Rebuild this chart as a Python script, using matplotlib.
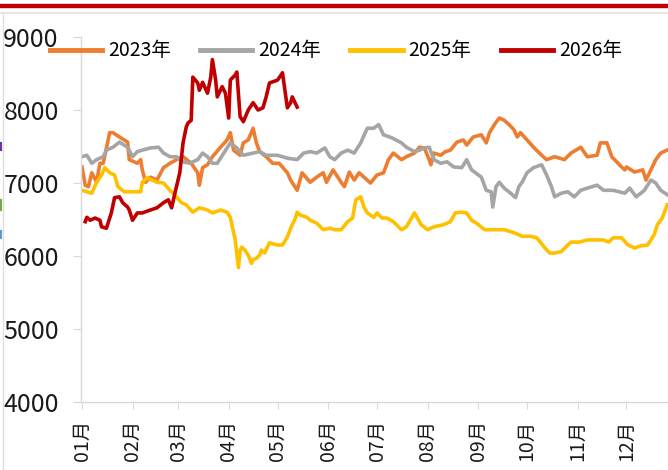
import matplotlib
matplotlib.use("Agg")
import matplotlib.pyplot as plt
from matplotlib.lines import Line2D

plt.rcParams["font.family"] = ["Noto Sans CJK SC", "DejaVu Sans"]

# x轴: 一年中的第几天 (1月1日 = 0)
month_starts = [0, 31, 59, 90, 120, 151, 181, 212, 243, 273, 304, 334]
month_labels = ["01月", "02月", "03月", "04月", "05月", "06月",
                "07月", "08月", "09月", "10月", "11月", "12月"]

# 2023年
d2023 = [0, 2, 4, 6, 9, 11, 13, 15, 17, 19, 23, 28, 29, 34, 36, 37, 39, 42, 46, 50,
         54, 58, 62, 67, 71, 72, 74, 77, 80, 85, 89, 91, 93, 97, 99, 102, 105, 107, 109, 113,
         117, 121, 126, 128, 132, 135, 140, 144, 148, 150, 154, 159, 161, 164, 167, 170, 173, 177, 181, 185,
         188, 191, 196, 199, 204, 207, 210, 213, 214, 216, 220, 223, 226, 230, 234, 236, 240, 245, 248, 250,
         253, 256, 259, 262, 265, 267, 269, 273, 277, 282, 285, 290, 296, 300, 306, 310, 316, 318, 322, 325,
         331, 333, 334, 339, 344, 346, 349, 352, 355, 359]
v2023 = [7220, 6970, 6950, 7140, 7010, 7270, 7270, 7480, 7690, 7690, 7630, 7560, 7320, 7270, 7320, 7180, 7010, 7080, 7040, 7210,
         7270, 7320, 7360, 7270, 7140, 6970, 7210, 7250, 7360, 7490, 7590, 7690, 7450, 7380, 7550, 7590, 7750, 7550, 7430, 7360,
         7270, 7270, 7140, 7040, 6900, 7140, 7010, 7080, 7140, 7010, 7180, 7010, 6950, 7150, 7040, 7140, 7080, 7000, 7110, 7140,
         7320, 7410, 7320, 7360, 7410, 7490, 7480, 7320, 7250, 7410, 7380, 7430, 7450, 7560, 7590, 7520, 7630, 7660, 7550, 7690,
         7800, 7890, 7860, 7800, 7730, 7630, 7690, 7590, 7490, 7380, 7320, 7360, 7320, 7410, 7490, 7360, 7380, 7550, 7550, 7360,
         7220, 7180, 7220, 7150, 7180, 7040, 7180, 7320, 7410, 7450]

# 2024年
d2024 = [0, 3, 6, 9, 13, 15, 19, 23, 28, 31, 34, 37, 42, 47, 50, 54, 58, 62, 66, 71,
         74, 77, 80, 83, 87, 91, 95, 99, 105, 109, 113, 120, 126, 132, 136, 140, 144, 149, 152, 155,
         159, 163, 167, 171, 175, 179, 182, 185, 190, 196, 199, 204, 207, 210, 213, 216, 220, 224, 228, 233,
         236, 239, 245, 248, 251, 252, 254, 256, 259, 263, 266, 268, 270, 273, 277, 282, 285, 288, 290, 294,
         298, 302, 306, 310, 316, 320, 326, 333, 336, 340, 345, 349, 352, 355, 359]
v2024 = [7360, 7380, 7270, 7320, 7360, 7450, 7490, 7560, 7490, 7360, 7430, 7450, 7480, 7490, 7410, 7360, 7360, 7290, 7270, 7320,
         7410, 7360, 7270, 7270, 7410, 7550, 7480, 7380, 7410, 7430, 7380, 7380, 7340, 7320, 7410, 7430, 7410, 7480, 7360, 7320,
         7410, 7450, 7410, 7550, 7750, 7750, 7800, 7660, 7620, 7550, 7490, 7430, 7450, 7480, 7490, 7320, 7270, 7290, 7220, 7210,
         7320, 7180, 7080, 6900, 6880, 6670, 6950, 7010, 6930, 6860, 6800, 6950, 7010, 7140, 7210, 7250, 7110, 6950, 6810, 6860,
         6880, 6810, 6900, 6930, 6970, 6900, 6900, 6860, 6930, 6810, 6900, 7040, 7000, 6900, 6840]

# 2025年
d2025 = [0, 3, 6, 9, 12, 14, 17, 20, 22, 26, 31, 36, 37, 40, 46, 50, 54, 58, 61, 64,
         68, 72, 77, 80, 85, 89, 91, 94, 96, 97, 98, 100, 102, 104, 105, 107, 109, 110, 112, 115,
         120, 123, 126, 128, 131, 132, 134, 138, 140, 144, 148, 152, 155, 159, 163, 166, 168, 171, 173, 175,
         179, 181, 184, 187, 191, 196, 199, 204, 208, 212, 216, 222, 226, 229, 233, 236, 239, 242, 247, 253,
         259, 265, 270, 275, 279, 284, 287, 290, 294, 298, 300, 305, 310, 315, 320, 323, 326, 331, 335, 339,
         343, 347, 351, 353, 356, 359]
v2025 = [6900, 6880, 6860, 7010, 7110, 7210, 7140, 7110, 6950, 6880, 6880, 6880, 7010, 7070, 7010, 7000, 6900, 6810, 6730, 6700,
         6600, 6660, 6630, 6590, 6630, 6600, 6530, 6220, 5840, 6080, 6120, 6080, 6010, 5900, 5950, 5970, 6010, 6080, 6040, 6180,
         6150, 6150, 6260, 6380, 6520, 6600, 6560, 6530, 6490, 6450, 6360, 6380, 6360, 6360, 6470, 6520, 6770, 6810, 6670, 6590,
         6530, 6590, 6520, 6520, 6470, 6360, 6400, 6590, 6430, 6360, 6400, 6430, 6470, 6590, 6600, 6590, 6490, 6450, 6360, 6360,
         6360, 6320, 6270, 6270, 6250, 6110, 6040, 6040, 6060, 6150, 6190, 6190, 6220, 6220, 6220, 6190, 6250, 6250, 6150, 6110,
         6140, 6150, 6290, 6430, 6520, 6700]

# 2026年
d2026 = [2, 3, 5, 8, 11, 12, 15, 18, 20, 23, 25, 28, 29, 31, 34, 37, 42, 46, 50, 53,
         55, 57, 60, 62, 64, 65, 67, 68, 71, 72, 74, 77, 79, 80, 82, 83, 86, 88, 90, 91,
         94, 95, 97, 99, 102, 105, 108, 111, 113, 115, 120, 123, 126, 128, 129, 132]
v2026 = [6470, 6530, 6490, 6520, 6490, 6400, 6380, 6590, 6800, 6810, 6730, 6670, 6630, 6490, 6590, 6590, 6630, 6660, 6730, 6770,
         6660, 6860, 7140, 7550, 7770, 7820, 7860, 8450, 8370, 8270, 8380, 8230, 8450, 8690, 8410, 8180, 8320, 8230, 7890, 8410,
         8480, 8520, 7910, 7840, 8000, 8100, 8000, 8030, 8180, 8370, 8410, 8510, 8030, 8100, 8180, 8040]

series = [
    ("2023年", d2023, v2023, "#ED7D31"),
    ("2024年", d2024, v2024, "#A5A5A5"),
    ("2025年", d2025, v2025, "#FFC000"),
    ("2026年", d2026, v2026, "#C00000"),
]

fig = plt.figure(figsize=(6.68, 4.70), dpi=100)
ax = fig.add_axes([81 / 668, 1 - 402 / 470, 1 - 81 / 668, (402 - 37) / 470])

for name, d, v, c in series:
    ax.plot(d, v, color=c, lw=2.6, label=name, solid_joinstyle="round")

ax.set_xlim(-0.6, 359.5)
ax.set_ylim(4000, 9000)
ax.set_yticks(range(4000, 9001, 1000))
ax.set_xticks(month_starts)
ax.set_xticklabels(month_labels, rotation=90)

for s in ["top", "right"]:
    ax.spines[s].set_visible(False)
for s in ["left", "bottom"]:
    ax.spines[s].set_color("#D9D9D9")
    ax.spines[s].set_linewidth(1.0)
ax.tick_params(axis="y", length=6, color="#D9D9D9", pad=10, labelsize=18, labelcolor="#1a1a1a")
ax.tick_params(axis="x", length=5, color="#D9D9D9", pad=8, labelsize=14, labelcolor="#1a1a1a")

leg = ax.legend(loc="center", bbox_to_anchor=(0.434, 0.962), ncol=4, frameon=False,
                fontsize=14, handlelength=2.7, handletextpad=0.3, columnspacing=1.5,
                borderaxespad=0)
for h in leg.get_lines():
    h.set_linewidth(3.5)

# 截图边框装饰
fig.add_artist(Line2D([0, 1], [1 - 5.5 / 470, 1 - 5.5 / 470], color="#C00000", lw=3.2))
fig.add_artist(Line2D([0, 1], [1 - 13 / 470, 1 - 13 / 470], color="#E0E0E0", lw=1.2))
fig.add_artist(Line2D([3 / 668, 3 / 668], [0, 1 - 14 / 470], color="#E0E0E0", lw=1.0))
fig.add_artist(Line2D([0.5 / 668, 0.5 / 668], [1 - 143 / 470, 1 - 150 / 470], color="#7030A0", lw=1.5))
fig.add_artist(Line2D([0.5 / 668, 0.5 / 668], [1 - 200 / 470, 1 - 210 / 470], color="#70AD47", lw=1.5))
fig.add_artist(Line2D([0.5 / 668, 0.5 / 668], [1 - 231 / 470, 1 - 238 / 470], color="#5B9BD5", lw=1.5))

fig.savefig("out.png", dpi=100)
